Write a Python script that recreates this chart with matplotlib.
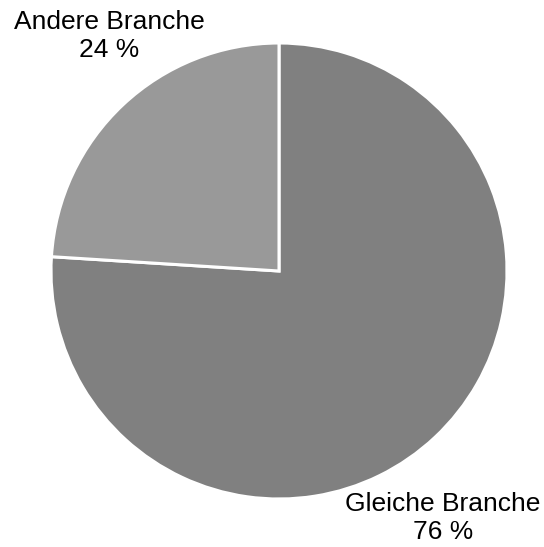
import matplotlib
matplotlib.use("Agg")
import matplotlib.pyplot as plt

categories = ["Gleiche Branche", "Andere Branche"]
values = [76, 24]
labels = ["Gleiche Branche\n76 %", "Andere Branche\n24 %"]
colors = ["#808080", "#999999"]

W, H = 544, 547
fig = plt.figure(figsize=(W / 100, H / 100), dpi=100)
cx, cy, r = 279, 271, 228
ax = fig.add_axes([(cx - r) / W, (H - cy - r) / H, 2 * r / W, 2 * r / H])
wedges, _ = ax.pie(values, colors=colors, startangle=90, counterclock=False,
                   wedgeprops=dict(edgecolor="white", linewidth=2.2))
ax.set_xlim(-1, 1)
ax.set_ylim(-1, 1)
ax.set_aspect("equal")
ax.axis("off")

label_pos = [(443, 518), (109, 36)]
for txt, (px, py) in zip(labels, label_pos):
    fig.text(px / W, 1 - py / H, txt, ha="center", va="center",
             fontsize=19, family="Liberation Sans", color="black",
             linespacing=1.2)

fig.savefig("out.png", dpi=100)
